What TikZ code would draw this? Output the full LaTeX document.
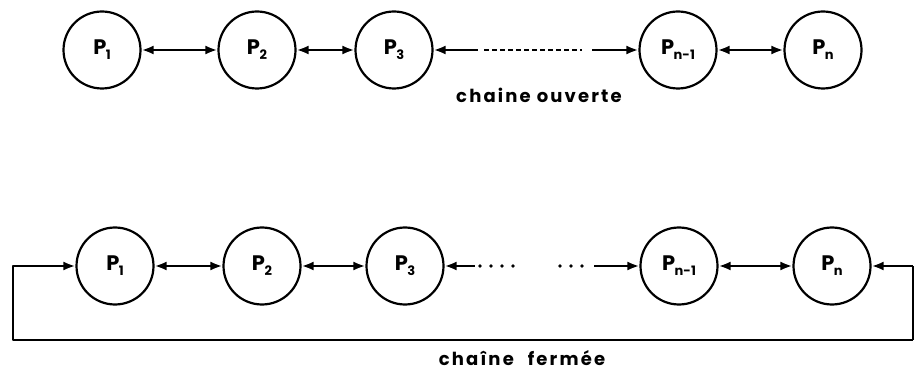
\documentclass[tikz,border=0pt]{standalone}
\usepackage{fontspec}
\newfontfamily\hand{Poppins}
\newfontfamily\handwide[LetterSpace=12]{Poppins}
\usetikzlibrary{arrows.meta}
% process label: P with a lowered index
\newcommand\procname[1]{P\kern-0.5pt\raisebox{-5pt}{\fontsize{13}{13}\selectfont #1}}
\begin{document}
\begin{tikzpicture}[x=1pt,y=-1pt,
  proc/.style={circle,draw,line width=2.2pt,minimum size=77pt,inner sep=0pt,
    font=\hand\bfseries\fontsize{21}{21}\selectfont},
  link/.style={line width=2.6pt,{Latex[length=12pt,width=9pt]}-{Latex[length=12pt,width=9pt]}},
  halfin/.style={line width=2.6pt,{Latex[length=12pt,width=9pt]}-},
  halfout/.style={line width=2.6pt,-{Latex[length=12pt,width=9pt]}},
  dashy/.style={line width=2.6pt,dash pattern=on 5pt off 3pt},
  dotty/.style={line width=3.8pt,line cap=round,dash pattern=on 0pt off 11pt},
  caption/.style={font=\handwide\bfseries\fontsize{18}{18}\selectfont,inner sep=0pt}
]
\useasboundingbox (0,0) rectangle (915,371);

% open chain
\node[proc] (a1)  at (102,50) {\procname{1}};
\node[proc] (a2)  at (257,50) {\procname{2}};
\node[proc] (a3)  at (394,50) {\procname{3}};
\node[proc] (an1) at (678,50) {\procname{n-1}};
\node[proc] (an)  at (823,50) {\procname{n}};

\draw[link] (a1) -- (a2);
\draw[link] (a2) -- (a3);
\draw[link] (an1) -- (an);

\coordinate (t1) at (478,50);
\coordinate (t2) at (484,50);
\coordinate (t3) at (582,50);
\coordinate (t4) at (592,50);
\draw[halfin] (a3) -- (t1);
\draw[dashy] (t2) -- (t3);
\draw[halfout] (t4) -- (an1);

\node[caption] (ouv) at (539,95) {chaine ouverte};

% closed chain
\node[proc] (b1)  at (115,266) {\procname{1}};
\node[proc] (b2)  at (262,266) {\procname{2}};
\node[proc] (b3)  at (405,266) {\procname{3}};
\node[proc] (bn1) at (679,266) {\procname{n-1}};
\node[proc] (bn)  at (832,266) {\procname{n}};

\draw[link] (b1) -- (b2);
\draw[link] (b2) -- (b3);
\draw[link] (bn1) -- (bn);

\coordinate (u1) at (475,266);
\coordinate (u2) at (480,266);
\coordinate (u3) at (514,266);
\coordinate (u4) at (560,266);
\coordinate (u5) at (590,266);
\coordinate (u6) at (594,266);
\draw[halfin] (b3) -- (u1);
\draw[dotty] (u2) -- (u3);
\draw[dotty] (u4) -- (u5);
\draw[halfout] (u6) -- (bn1);

% feedback loop closing the chain
\coordinate (l1) at (13,266);
\coordinate (l2) at (13,340);
\coordinate (r2) at (913,340);
\coordinate (r1) at (913,266);
\draw[line width=2.6pt,line join=round,-{Latex[length=12pt,width=9pt]}] (r2) -- (l2) -- (l1) -- (b1);
\draw[line width=1.2pt] (r2) -- (r1);
\draw[halfout] (r1) -- (bn);

\node[caption] (ferm) at (522,358) {chaîne\hspace{14pt}fermée};
\end{tikzpicture}
\end{document}
